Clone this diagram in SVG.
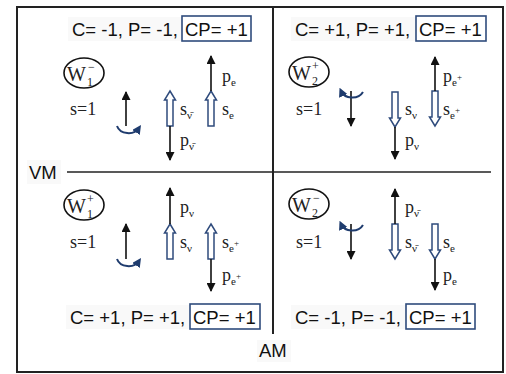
<svg xmlns="http://www.w3.org/2000/svg" width="506" height="374" viewBox="0 0 506 374">
  <style>
    .sans { font-family: "Liberation Sans", Arial, sans-serif; font-size: 18.5px; fill: #111; }
    .serif { font-family: "Liberation Serif", "Times New Roman", serif; fill: #222; }
    .lbl { font-size: 18px; }
    .sub { font-size: 11px; }
    .sup { font-size: 9px; }
    .wsub { font-size: 12px; }
    .frame { fill: none; stroke: #222; stroke-width: 2; }
    .axis { fill: none; stroke: #222; stroke-width: 1.6; }
    .cpbox { fill: none; stroke: #2f4b7c; stroke-width: 1.6; }
    .halo { fill: #f9f9f9; }
    .mom { stroke: #111; stroke-width: 1.6; marker-end: url(#head); }
    .spin { fill: #fff; stroke: #2f4b7c; stroke-width: 1.5; }
    .curl { fill: none; stroke: #1f3c6e; stroke-width: 2; marker-end: url(#chead); }
    .wcirc { fill: #fff; stroke: #111; stroke-width: 1.6; }
  </style>
  <defs>
    <marker id="head" viewBox="0 0 10 10" refX="9" refY="5" markerWidth="10" markerHeight="9" markerUnits="userSpaceOnUse" orient="auto">
      <path d="M0,0 L10,5 L0,10 z" fill="#111"/>
    </marker>
    <marker id="chead" viewBox="0 0 10 10" refX="6" refY="5" markerWidth="9" markerHeight="9" markerUnits="userSpaceOnUse" orient="auto">
      <path d="M0,0 L10,5 L0,10 z" fill="#1f3c6e"/>
    </marker>
    <!-- hollow spin arrow, tip at origin, pointing up -->
    <path id="hollow-up" d="M0,0 L5.5,9 L3,9 L3,35 L-3,35 L-3,9 L-5.5,9 Z"/>
  </defs>

  <rect width="506" height="374" fill="#fff"/>

  <!-- frame and axes -->
  <g id="axes">
    <rect class="frame" x="17" y="7" width="486" height="365"/>
    <line class="frame" x1="273" y1="7" x2="273" y2="334"/>
    <line class="axis" x1="67" y1="172" x2="491" y2="172"/>
    <rect class="halo" x="27" y="160" width="34" height="24"/>
    <text class="sans" x="29" y="179">VM</text>
    <rect class="halo" x="257" y="340" width="34" height="22"/>
    <text class="sans" x="259" y="357">AM</text>
  </g>

  <!-- quadrant: W1- -->
  <g id="q-w1-minus">
    <rect class="halo" x="68" y="17" width="114" height="24"/>
    <text class="sans" x="72" y="36">C= -1, P= -1,</text>
    <rect class="cpbox" x="182" y="16" width="69" height="25"/>
    <text class="sans" x="185" y="36">CP= +1</text>
    <ellipse class="wcirc" cx="84" cy="73" rx="20" ry="15"/>
    <text class="serif" x="67" y="81" font-size="20">W<tspan class="wsub" x="87" y="86">1</tspan><tspan class="wsub" x="88" y="71">−</tspan></text>
    <text class="serif lbl" x="70" y="115">s=1</text>
    <line class="mom" x1="126" y1="126" x2="126" y2="92"/>
    <path class="curl" d="M117,126 A12,10 0 0,0 139,128"/>
    <use href="#hollow-up" class="spin" x="170" y="91"/>
    <line class="mom" x1="170" y1="126" x2="170" y2="160"/>
    <text class="serif lbl" x="180" y="115">s<tspan class="sub" dy="4">ν̄</tspan></text>
    <text class="serif lbl" x="180" y="146">p<tspan class="sub" dy="4">ν̄</tspan></text>
    <use href="#hollow-up" class="spin" x="211" y="91"/>
    <line class="mom" x1="211" y1="91" x2="211" y2="56"/>
    <text class="serif lbl" x="222" y="82">p<tspan class="sub" dy="4">e</tspan></text>
    <text class="serif lbl" x="222" y="115">s<tspan class="sub" dy="4">e</tspan></text>
  </g>

  <!-- quadrant: W2+ -->
  <g id="q-w2-plus">
    <rect class="halo" x="291" y="17" width="125" height="24"/>
    <text class="sans" x="295" y="36">C= +1, P= +1,</text>
    <rect class="cpbox" x="416" y="16" width="70" height="25"/>
    <text class="sans" x="419" y="36">CP= +1</text>
    <ellipse class="wcirc" cx="309" cy="72" rx="20" ry="15"/>
    <text class="serif" x="292" y="80" font-size="20">W<tspan class="wsub" x="312" y="85">2</tspan><tspan class="wsub" x="312" y="70">+</tspan></text>
    <text class="serif lbl" x="296" y="115">s=1</text>
    <line class="mom" x1="351" y1="91" x2="351" y2="126"/>
    <path class="curl" d="M363,92 A12,10 0 0,1 341,91"/>
    <use href="#hollow-up" class="spin" transform="translate(395,127) rotate(180)"/>
    <line class="mom" x1="395" y1="127" x2="395" y2="159"/>
    <text class="serif lbl" x="405" y="115">s<tspan class="sub" dy="4">ν</tspan></text>
    <text class="serif lbl" x="405" y="146">p<tspan class="sub" dy="4">ν</tspan></text>
    <use href="#hollow-up" class="spin" transform="translate(435,126) rotate(180)"/>
    <line class="mom" x1="435" y1="91" x2="435" y2="57"/>
    <text class="serif lbl" x="443" y="82">p<tspan class="sub" dy="4">e</tspan><tspan class="sup" dy="-6">+</tspan></text>
    <text class="serif lbl" x="443" y="115">s<tspan class="sub" dy="4">e</tspan><tspan class="sup" dy="-6">+</tspan></text>
  </g>

  <!-- quadrant: W1+ -->
  <g id="q-w1-plus">
    <ellipse class="wcirc" cx="84" cy="205" rx="20" ry="15"/>
    <text class="serif" x="67" y="213" font-size="20">W<tspan class="wsub" x="87" y="218">1</tspan><tspan class="wsub" x="87" y="203">+</tspan></text>
    <text class="serif lbl" x="70" y="248">s=1</text>
    <line class="mom" x1="126" y1="259" x2="126" y2="224"/>
    <path class="curl" d="M117,259 A12,10 0 0,0 139,261"/>
    <use href="#hollow-up" class="spin" x="170" y="224"/>
    <line class="mom" x1="170" y1="224" x2="170" y2="188"/>
    <text class="serif lbl" x="180" y="213">p<tspan class="sub" dy="4">ν</tspan></text>
    <text class="serif lbl" x="180" y="248">s<tspan class="sub" dy="4">ν</tspan></text>
    <use href="#hollow-up" class="spin" x="211" y="224"/>
    <line class="mom" x1="211" y1="259" x2="211" y2="291"/>
    <text class="serif lbl" x="222" y="248">s<tspan class="sub" dy="4">e</tspan><tspan class="sup" dy="-6">+</tspan></text>
    <text class="serif lbl" x="222" y="281">p<tspan class="sub" dy="4">e</tspan><tspan class="sup" dy="-6">+</tspan></text>
    <rect class="halo" x="66" y="305" width="124" height="24"/>
    <text class="sans" x="70" y="324">C= +1, P= +1,</text>
    <rect class="cpbox" x="190" y="304" width="70" height="25"/>
    <text class="sans" x="193" y="324">CP= +1</text>
  </g>

  <!-- quadrant: W2- -->
  <g id="q-w2-minus">
    <ellipse class="wcirc" cx="309" cy="204" rx="20" ry="15"/>
    <text class="serif" x="292" y="212" font-size="20">W<tspan class="wsub" x="312" y="217">2</tspan><tspan class="wsub" x="313" y="202">−</tspan></text>
    <text class="serif lbl" x="296" y="248">s=1</text>
    <line class="mom" x1="351" y1="224" x2="351" y2="259"/>
    <path class="curl" d="M363,225 A12,10 0 0,1 341,224"/>
    <use href="#hollow-up" class="spin" transform="translate(395,259) rotate(180)"/>
    <line class="mom" x1="395" y1="224" x2="395" y2="189"/>
    <text class="serif lbl" x="405" y="213">p<tspan class="sub" dy="4">ν̄</tspan></text>
    <text class="serif lbl" x="405" y="248">s<tspan class="sub" dy="4">ν̄</tspan></text>
    <use href="#hollow-up" class="spin" transform="translate(435,259) rotate(180)"/>
    <line class="mom" x1="435" y1="259" x2="435" y2="290"/>
    <text class="serif lbl" x="443" y="248">s<tspan class="sub" dy="4">e</tspan></text>
    <text class="serif lbl" x="443" y="281">p<tspan class="sub" dy="4">e</tspan></text>
    <rect class="halo" x="291" y="305" width="115" height="24"/>
    <text class="sans" x="295" y="324">C= -1, P= -1,</text>
    <rect class="cpbox" x="406" y="304" width="69" height="25"/>
    <text class="sans" x="409" y="324">CP= +1</text>
  </g>
</svg>
